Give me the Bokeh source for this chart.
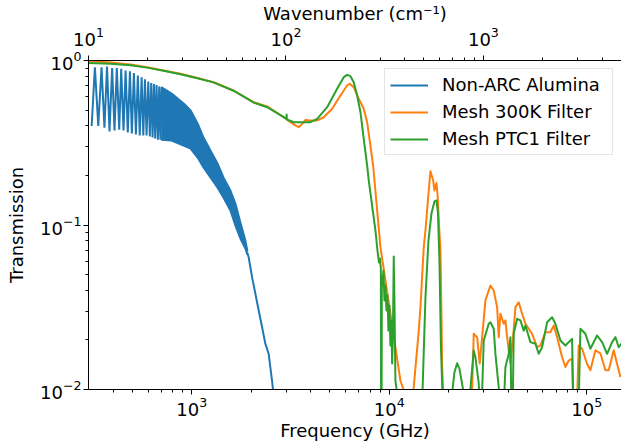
from bokeh.plotting import figure
from bokeh.models import Range1d, LogAxis, LogScale, FixedTicker, LogTickFormatter
from bokeh.embed import file_html
from bokeh.resources import INLINE

# ---------------- data ----------------
# Non-ARC Alumina: resolved fringes (peaks / troughs) at low frequency
alumina_fringe_f = [311, 323, 336, 349, 361, 372, 383, 395, 406, 417, 429, 439, 451, 462,
                    474, 486, 497, 509, 521, 533, 545, 557, 568, 579, 590, 602, 613, 623,
                    633, 643, 653, 663, 674, 684, 694, 703]
alumina_fringe_t = [0.40, 0.91, 0.40, 0.91, 0.39, 0.92, 0.37, 0.90, 0.375, 0.90, 0.38, 0.89,
                    0.375, 0.87, 0.365, 0.86, 0.36, 0.84, 0.355, 0.81, 0.35, 0.79, 0.35, 0.77,
                    0.35, 0.745, 0.345, 0.73, 0.34, 0.72, 0.335, 0.71, 0.33, 0.695, 0.33, 0.685]
# unresolved fringe band: upper / lower envelope
alumina_band_f = [700, 790, 909, 986, 1070, 1146, 1243, 1349, 1446, 1569, 1662, 1762, 1868, 1913]
alumina_band_hi = [0.69, 0.630, 0.548, 0.497, 0.414, 0.340, 0.284, 0.2365, 0.1945, 0.162,
                   0.135, 0.1035, 0.0805, 0.069]
alumina_band_lo = [0.33, 0.3265, 0.304, 0.2917, 0.257, 0.224, 0.1945, 0.169, 0.147, 0.1225,
                   0.0993, 0.0828, 0.072, 0.066]
# tail
alumina_tail_f = [1913, 1941, 2019, 2099, 2181, 2270, 2357, 2450, 2498, 2548, 2578, 2617]
alumina_tail_t = [0.0675, 0.0637, 0.0482, 0.0382, 0.0302, 0.0239, 0.0190, 0.0165, 0.0137,
                  0.01134, 0.00995, 0.009]

mesh300_f = [300, 388, 489, 594, 719, 876, 1068, 1288, 1626, 2053, 2408, 2922, 3160, 3350,
             3481, 3623, 3764, 3911, 4314, 4658, 5138, 5657, 6118, 6307, 6608, 7005, 7425,
             7725, 8028, 8285, 9023, 10138, 11391, 11838, 12505, 13300, 14104, 14386, 14951,
             15250, 15846, 16164, 16681, 16936, 17335, 17600, 17890, 18163, 18376, 18527,
             18744, 22134, 25918, 26282, 26778, 27861, 28718, 29533, 30692, 32530, 33806,
             35173, 35836, 36553, 37987, 38748, 39524, 41073, 42386, 43540, 45246, 47076,
             48924, 50844, 52900, 56077, 58277, 61777, 65485, 68054, 70793, 75046, 77990,
             81050, 84325, 86114, 88146, 91073, 94758, 100437, 104376, 110641, 117287,
             124335, 129212, 136972, 142512, 148097]
mesh300_t = [0.993, 0.972, 0.946, 0.911, 0.870, 0.830, 0.783, 0.738, 0.657, 0.558, 0.526,
             0.452, 0.422, 0.403, 0.393, 0.412, 0.436, 0.432, 0.432, 0.452, 0.509, 0.613,
             0.705, 0.722, 0.688, 0.585, 0.509, 0.422, 0.304, 0.230, 0.0733, 0.0289, 0.0113,
             0.0099, 0.007, 0.0103, 0.0228, 0.0317, 0.0733, 0.0926, 0.162, 0.212, 0.187,
             0.162, 0.180, 0.148, 0.097, 0.070, 0.0289, 0.0137, 0.0099, 0.005, 0.0095,
             0.0101, 0.0218, 0.0208, 0.0144, 0.0208, 0.0348, 0.0429, 0.0400, 0.0317, 0.0208,
             0.0289, 0.0251, 0.0263, 0.0208, 0.0144, 0.0208, 0.0317, 0.0339, 0.0289, 0.0251,
             0.0234, 0.0218, 0.0181, 0.0185, 0.0223, 0.0223, 0.0245, 0.0208, 0.0157, 0.0137,
             0.0150, 0.0154, 0.005, 0.005, 0.0185, 0.0177, 0.0143, 0.0131, 0.0173, 0.0166,
             0.0131, 0.0131, 0.0173, 0.0143, 0.0119]

ptc1_f = [300, 388, 489, 594, 719, 876, 1068, 1288, 1626, 2053, 2408, 2922, 3015, 3022, 3030,
          3284, 3551, 3990, 4314, 4847, 5444, 5882, 6118, 6359, 6608, 6876, 7146, 7425, 7725,
          7871, 8511, 8712, 8866, 8970, 9065, 9097, 9139, 9171, 9236, 9344, 9454, 9565, 9677,
          9790, 9904, 10020, 10138, 10256, 10340, 10437, 10535, 10621, 10745, 10961, 12505,
          14725, 15250, 15791, 16353, 16936, 17335, 17641, 17952, 18270, 18592, 19704, 20814,
          21380, 22058, 22658, 23825, 24880, 25767, 26778, 27315, 28388, 28787, 29295, 30089,
          31892, 32530, 33806, 34483, 35836, 36553, 37855, 38748, 40268, 41073, 41654, 42044,
          42687, 44414, 46156, 47967, 48924, 51856, 54966, 57120, 59431, 63013, 66794, 69414,
          73563, 77990, 81050, 84325, 86114, 90229, 92895, 98467, 104376, 112855, 119637,
          126827, 134442, 139714, 145183, 149833]
ptc1_t = [0.965, 0.955, 0.935, 0.905, 0.866, 0.826, 0.780, 0.736, 0.655, 0.556, 0.52, 0.452,
          0.442, 0.47, 0.438, 0.4216, 0.4216, 0.4216, 0.442, 0.520, 0.673, 0.792, 0.8185,
          0.8027, 0.738, 0.6126, 0.485, 0.334, 0.230, 0.1865, 0.0926, 0.070, 0.0592, 0.0626,
          0.0544, 0.005, 0.005, 0.0493, 0.0429, 0.0529, 0.0348, 0.0429, 0.0302, 0.0373,
          0.0228, 0.0324, 0.0185, 0.0263, 0.0144, 0.0213, 0.0644, 0.0348, 0.0113, 0.0095,
          0.004, 0.0095, 0.0362, 0.0805, 0.1174, 0.139, 0.141, 0.119, 0.0608, 0.0180, 0.0095,
          0.006, 0.0095, 0.0127, 0.01445, 0.0134, 0.0095, 0.006, 0.0101, 0.01727, 0.0157,
          0.01088, 0.007, 0.007, 0.01986, 0.0251, 0.02565, 0.0234, 0.01648, 0.0103, 0.007,
          0.007, 0.01366, 0.01648, 0.0208, 0.006, 0.006, 0.0218, 0.0269, 0.0263, 0.0228,
          0.0245, 0.0194, 0.01896, 0.01648, 0.01807, 0.02565, 0.0275, 0.0251, 0.01986,
          0.0185, 0.0194, 0.0203, 0.005, 0.005, 0.0234, 0.0218, 0.01768, 0.0213, 0.0194,
          0.01648, 0.0194, 0.0208, 0.01807, 0.0190]

freq_major_ticks = [1e3, 1e4, 1e5]
freq_minor_ticks = [400, 500, 600, 700, 800, 900, 2e3, 3e3, 4e3, 5e3, 6e3, 7e3, 8e3, 9e3,
                    2e4, 3e4, 4e4, 5e4, 6e4, 7e4, 8e4, 9e4]
wn_major_ticks = [10, 100, 1000]
wn_minor_ticks = [20, 30, 40, 50, 60, 70, 80, 90, 200, 300, 400, 500, 600, 700, 800, 900,
                  2000, 3000, 4000, 5000]
trans_major_ticks = [0.01, 0.1, 1]
trans_minor_ticks = [0.02, 0.03, 0.04, 0.05, 0.06, 0.07, 0.08, 0.09,
                     0.2, 0.3, 0.4, 0.5, 0.6, 0.7, 0.8, 0.9]

GHZ_PER_WAVENUMBER = 29.9792
FREQ_MIN, FREQ_MAX = 299.792, 1.5e5

C_BLUE, C_ORANGE, C_GREEN = "#1f77b4", "#ff7f0e", "#2ca02c"
FONT = "DejaVu Sans"

# ---------------- figure ----------------
p = figure(width=621, height=444, x_axis_type="log", y_axis_type="log",
           x_range=Range1d(FREQ_MIN, FREQ_MAX), y_range=Range1d(0.01, 1),
           output_backend="svg", toolbar_location=None,
           min_border_left=88, min_border_right=0, min_border_top=60, min_border_bottom=55,
           x_axis_label="Frequency (GHz)", y_axis_label="Transmission",
           title="Wavenumber (cm\u207b\u00b9)")
p.title.align = "center"
p.title.text_font = FONT
p.title.text_font_size = "18px"
p.title.text_font_style = "normal"
p.title.text_color = "black"
p.title.standoff = 0
p.outline_line_color = None
p.xgrid.visible = False
p.ygrid.visible = False
p.background_fill_color = "white"

bottom = p.below[0]
left = p.left[0]

p.extra_x_ranges = {"wn": Range1d(FREQ_MIN / GHZ_PER_WAVENUMBER, FREQ_MAX / GHZ_PER_WAVENUMBER)}
p.extra_x_scales = {"wn": LogScale()}
top = LogAxis(x_range_name="wn")
p.add_layout(top, "above")

bottom.ticker = FixedTicker(ticks=freq_major_ticks, minor_ticks=freq_minor_ticks)
top.ticker = FixedTicker(ticks=wn_major_ticks, minor_ticks=wn_minor_ticks)
left.ticker = FixedTicker(ticks=trans_major_ticks, minor_ticks=trans_minor_ticks)

for ax in [bottom, left, top]:
    ax.formatter = LogTickFormatter()
    ax.axis_line_color = "black"
    ax.axis_line_width = 1
    ax.major_tick_line_color = "black"
    ax.minor_tick_line_color = "black"
    ax.major_tick_in = 0
    ax.major_tick_out = 5
    ax.minor_tick_in = 0
    ax.minor_tick_out = 3
    ax.major_label_text_font = FONT
    ax.major_label_text_font_size = "18px"
    ax.major_label_text_color = "black"
    ax.major_label_standoff = 2
    ax.axis_label_text_font = FONT
    ax.axis_label_text_font_size = "18px"
    ax.axis_label_text_font_style = "normal"
    ax.axis_label_text_color = "black"
    ax.axis_label_standoff = 3

top.major_label_standoff = 10
bottom.axis_label_standoff = 1
left.axis_label_standoff = 10

# ---------------- glyphs ----------------
p.varea(x=alumina_band_f, y1=alumina_band_lo, y2=alumina_band_hi, fill_color=C_BLUE)
p.line(alumina_band_f, alumina_band_hi, line_color=C_BLUE, line_width=2)
p.line(alumina_band_f, alumina_band_lo, line_color=C_BLUE, line_width=2)
p.line(alumina_tail_f, alumina_tail_t, line_color=C_BLUE, line_width=2)
p.line(alumina_fringe_f, alumina_fringe_t, line_color=C_BLUE, line_width=2,
       legend_label="Non-ARC Alumina")
p.line(mesh300_f, mesh300_t, line_color=C_ORANGE, line_width=2, line_join="round",
       legend_label="Mesh 300K Filter")
p.line(ptc1_f, ptc1_t, line_color=C_GREEN, line_width=2, line_join="round",
       legend_label="Mesh PTC1 Filter")

lg = p.legend[0]
lg.location = "top_right"
lg.margin = 8
lg.padding = 5
lg.spacing = 6
lg.label_height = 20
lg.glyph_height = 20
lg.glyph_width = 38
lg.label_standoff = 14
lg.label_width = 165
lg.label_text_font = FONT
lg.label_text_font_size = "18px"
lg.label_text_color = "black"
lg.border_line_color = "#cccccc"
lg.border_line_width = 1
lg.background_fill_alpha = 0.8

open("out.html", "w").write(file_html(p, INLINE))
